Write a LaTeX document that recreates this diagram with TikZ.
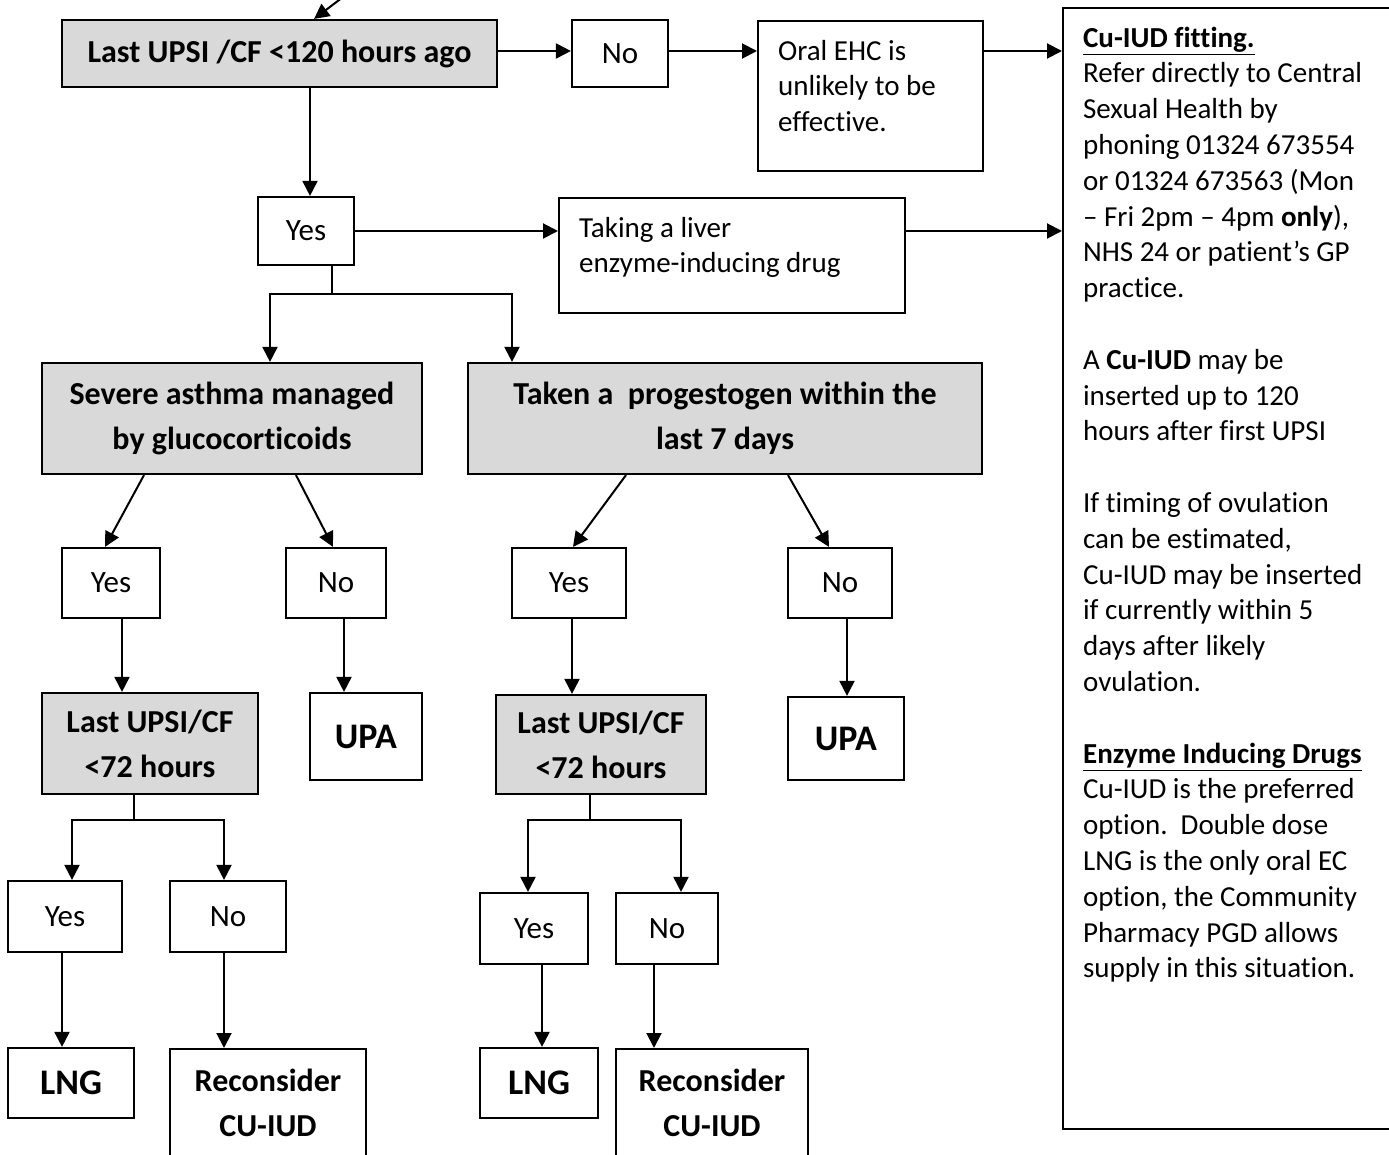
\documentclass[tikz,border=0pt]{standalone}
\usepackage{fontspec}
\setmainfont{Carlito}[Ligatures={TeX,NoCommon}]
\usetikzlibrary{arrows.meta, calc}

\definecolor{boxgrey}{HTML}{D9D9D9}
\newcommand\flowtxt{\fontsize{14.5}{17.9}\selectfont}
\newcommand\flowans{\fontsize{15.5}{18}\selectfont}
\newcommand\flowhead{\fontsize{16}{22.5}\selectfont\bfseries}
\newcommand\flowbig{\fontsize{18}{22}\selectfont\bfseries}
\newcommand\cardtext[3]{\parbox[t][#1][t]{#2}{\raggedright\strut #3}}

\tikzset{
  boxsize/.style 2 args={minimum width=#1*0.5pt, minimum height=#2*0.5pt},
  box/.style={draw, line width=1.1pt, inner sep=0pt, align=center, font=\flowans},
  greybox/.style={box, fill=boxgrey, font=\flowhead},
  endbox/.style={box, font=\flowbig},
  recbox/.style={box, anchor=north, font=\flowhead, inner ysep=10pt},
  note/.style={draw, line width=1.1pt, anchor=north west, inner xsep=10pt, inner ysep=7pt, font=\flowtxt},
  plain/.style={line width=1pt}
}

\begin{document}
\begin{tikzpicture}[x=0.5pt, y=-0.5pt, >={Triangle[length=7.5pt,width=7.5pt]}]
  \useasboundingbox (0,0) rectangle (1389,1155);

  % top row
  \node[greybox, boxsize={435}{67}] (q120) at (279.5,53.5) {Last UPSI /CF <120 hours ago};
  \node[box, boxsize={96}{67}] (no1) at (620,53.5) {No};
  \node[note] (oral) at (757,20) {\cardtext{61pt}{92.5pt}{Oral EHC is\\unlikely to be\\effective.}};
  \node[box, boxsize={96}{68}] (yes1) at (306,231) {Yes};
  \node[note] (liver) at (558,197) {\cardtext{43.5pt}{153pt}{Taking a liver\\enzyme-inducing drug}};

  % side panel
  \node[note] (panel) at (1062,7) {\cardtext{546.5pt}{159pt}{\underline{\textbf{Cu-IUD fitting.}}\\
    Refer directly to Central\\
    Sexual Health by\\
    phoning 01324 673554\\
    or 01324 673563 (Mon\\
    – Fri 2pm – 4pm \textbf{only}),\\
    NHS 24 or patient’s GP\\
    practice.\\[17.9pt]
    A \textbf{Cu-IUD} may be\\
    inserted up to 120\\
    hours after first UPSI\\[17.9pt]
    If timing of ovulation\\
    can be estimated,\\
    Cu-IUD may be inserted\\
    if currently within 5\\
    days after likely\\
    ovulation.\\[17.9pt]
    \underline{\textbf{Enzyme Inducing Drugs}}\\
    Cu-IUD is the preferred\\
    option.\ \ Double dose\\
    LNG is the only oral EC\\
    option, the Community\\
    Pharmacy PGD allows\\
    supply in this situation.}};

  % questions
  \node[greybox, boxsize={380}{111}] (asthma) at (232,418.5) {Severe asthma managed\\by glucocorticoids};
  \node[greybox, boxsize={514}{111}] (prog) at (725,418.5) {Taken a\ \ progestogen within the\\last 7 days};

  % left branch
  \node[box, boxsize={98}{70}] (yesA) at (111,583) {Yes};
  \node[box, boxsize={100}{70}] (noA) at (336,583) {No};
  \node[greybox, boxsize={216}{101}] (q72A) at (150,743.5) {Last UPSI/CF\\<72 hours};
  \node[endbox, boxsize={112}{87}] (upaA) at (366,736.5) {UPA};
  \node[box, boxsize={114}{71}] (yesB) at (65,916.5) {Yes};
  \node[box, boxsize={116}{71}] (noB) at (228,916.5) {No};
  \node[endbox, boxsize={126}{70}] (lngB) at (71,1083) {LNG};
  \node[recbox, boxsize={196}{70}] (recB) at (268,1048) {Reconsider\\CU-IUD\\\strut};

  % right branch
  \node[box, boxsize={114}{70}] (yesC) at (569,583) {Yes};
  \node[box, boxsize={104}{70}] (noC) at (840,583) {No};
  \node[greybox, boxsize={210}{99}] (q72C) at (601,744.5) {Last UPSI/CF\\<72 hours};
  \node[endbox, boxsize={116}{83}] (upaC) at (846,738.5) {UPA};
  \node[box, boxsize={108}{71}] (yesD) at (534,928.5) {Yes};
  \node[box, boxsize={102}{71}] (noD) at (667,928.5) {No};
  \node[endbox, boxsize={118}{70}] (lngD) at (539,1083) {LNG};
  \node[recbox, boxsize={192}{70}] (recD) at (712,1048) {Reconsider\\CU-IUD\\\strut};

  % connectors
  \coordinate (entry) at (351,-9);
  \coordinate (row1) at (0,51);
  \draw[plain, ->] (entry) -- (q120.45);
  \draw[plain, ->] (row1 -| q120.east) -- (row1 -| no1.west);
  \draw[plain, ->] (row1 -| no1.east) -- (row1 -| oral.west);
  \draw[plain, ->] (row1 -| oral.east) -- (row1 -| panel.west);
  \draw[plain, ->] (310,0 |- q120.south) -- (310,0 |- yes1.north);
  \draw[plain, ->] (yes1.east) -- (yes1.east -| liver.west);
  \draw[plain, ->] (yes1.east -| liver.east) -- (yes1.east -| panel.west);

  \draw[plain, ->] (144,0 |- asthma.south) -- (105,0 |- yesA.north);
  \draw[plain, ->] (296,0 |- asthma.south) -- (333,0 |- noA.north);
  \draw[plain, ->] (626,0 |- prog.south) -- (573,0 |- yesC.north);
  \draw[plain, ->] (788,0 |- prog.south) -- (829,0 |- noC.north);

  % forks
  \foreach \fx/\fy/\up/\lx/\lb/\rx/\rb in {332/294/yes1/270/asthma/512/prog,
      134/820/q72A/72/yesB/224/noB, 590/820/q72C/528/yesD/681/noD} {
    \draw[plain] (\fx,0 |- \up.south) -- (\fx,\fy);
    \draw[plain, ->] (\fx,\fy) -| (\lx,0 |- \lb.north);
    \draw[plain, ->] (\fx,\fy) -| (\rx,0 |- \rb.north);
  }

  % straight drops
  \foreach \x/\a/\b in {122/yesA/q72A, 344/noA/upaA, 62/yesB/lngB, 224/noB/recB,
      572/yesC/q72C, 847/noC/upaC, 542/yesD/lngD, 654/noD/recD}
    \draw[plain, ->] (\x,0 |- \a.south) -- (\x,0 |- \b.north);
\end{tikzpicture}
\end{document}
